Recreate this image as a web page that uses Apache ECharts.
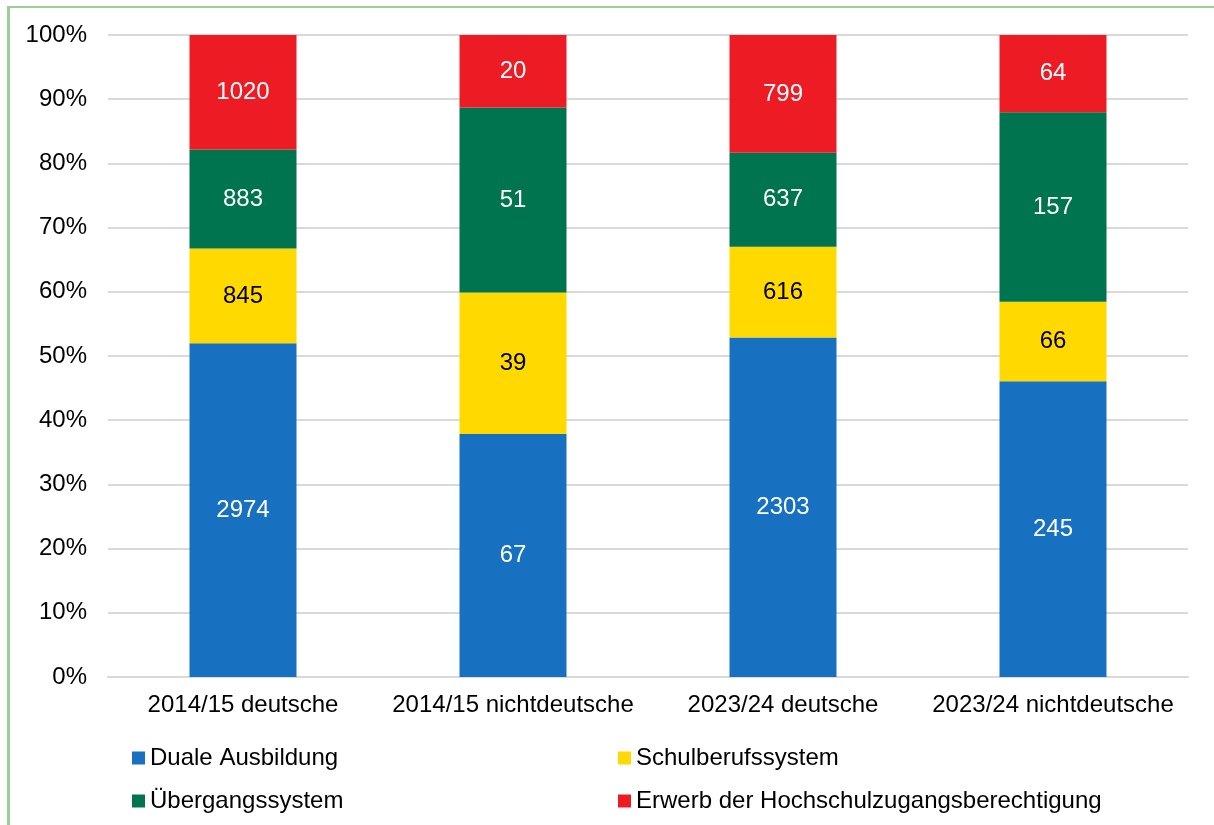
<!DOCTYPE html>
<html>
<head>
<meta charset="utf-8">
<script src="https://cdn.jsdelivr.net/npm/echarts@6/dist/echarts.min.js"></script>
<style>
  body { margin: 0; background: #fff; }
  #frame {
    position: absolute; left: 7px; top: 6px; width: 1400px; height: 1000px;
    border-left: 3px solid #9ccf98; border-top: 2px solid #9ccf98;
  }
  #chart { position: absolute; left: 0; top: 0; width: 1214px; height: 825px; }
</style>
</head>
<body>
<div id="frame"></div>
<div id="chart"></div>
<script>
const categories = ["2014/15 deutsche", "2014/15 nichtdeutsche", "2023/24 deutsche", "2023/24 nichtdeutsche"];
const duale = [2974, 67, 2303, 245];
const schulberuf = [845, 39, 616, 66];
const uebergang = [883, 51, 637, 157];
const hochschul = [1020, 20, 799, 64];
const yTicks = [0, 10, 20, 30, 40, 50, 60, 70, 80, 90, 100];

const totals = categories.map((c, i) => duale[i] + schulberuf[i] + uebergang[i] + hochschul[i]);
const font = "Liberation Sans, Arial, sans-serif";
const fs = 24;

function series(name, values, color, labelColor) {
  return {
    name: name,
    type: "bar",
    stack: "all",
    barWidth: 107,
    itemStyle: { color: color },
    label: {
      show: true,
      color: labelColor,
      fontSize: fs,
      fontFamily: font,
      formatter: p => values[p.dataIndex]
    },
    data: values.map((v, i) => v / totals[i] * 100)
  };
}

const chart = echarts.init(document.getElementById("chart"));
chart.setOption({
  animation: false,
  textStyle: { fontFamily: font },
  grid: { left: 108, right: 26, top: 35, bottom: 148 },
  legend: [
    {
      orient: "vertical", left: 127, top: 741, itemWidth: 13, itemHeight: 13, itemGap: 19,
      icon: "rect", textStyle: { fontSize: fs, color: "#000", fontFamily: font },
      data: ["Duale Ausbildung", "Übergangssystem"]
    },
    {
      orient: "vertical", left: 613, top: 741, itemWidth: 13, itemHeight: 13, itemGap: 19,
      icon: "rect", textStyle: { fontSize: fs, color: "#000", fontFamily: font },
      data: ["Schulberufssystem", "Erwerb der Hochschulzugangsberechtigung"]
    }
  ],
  xAxis: {
    type: "category",
    data: categories,
    axisTick: { show: false },
    axisLine: { lineStyle: { color: "#d9d9d9", width: 2 } },
    axisLabel: { color: "#000", fontSize: fs, margin: 16, interval: 0, fontFamily: font }
  },
  yAxis: {
    type: "value",
    min: yTicks[0],
    max: yTicks[yTicks.length - 1],
    interval: 10,
    axisLine: { show: false },
    axisTick: { show: false },
    splitLine: { lineStyle: { color: "#d9d9d9", width: 2 } },
    axisLabel: { color: "#000", fontSize: fs, margin: 21, fontFamily: font, formatter: "{value}%" }
  },
  series: [
    series("Duale Ausbildung", duale, "#1870c1", "#fff"),
    series("Schulberufssystem", schulberuf, "#ffd900", "#000"),
    series("Übergangssystem", uebergang, "#00734f", "#fff"),
    series("Erwerb der Hochschulzugangsberechtigung", hochschul, "#ed1c24", "#fff")
  ]
});
</script>
</body>
</html>
